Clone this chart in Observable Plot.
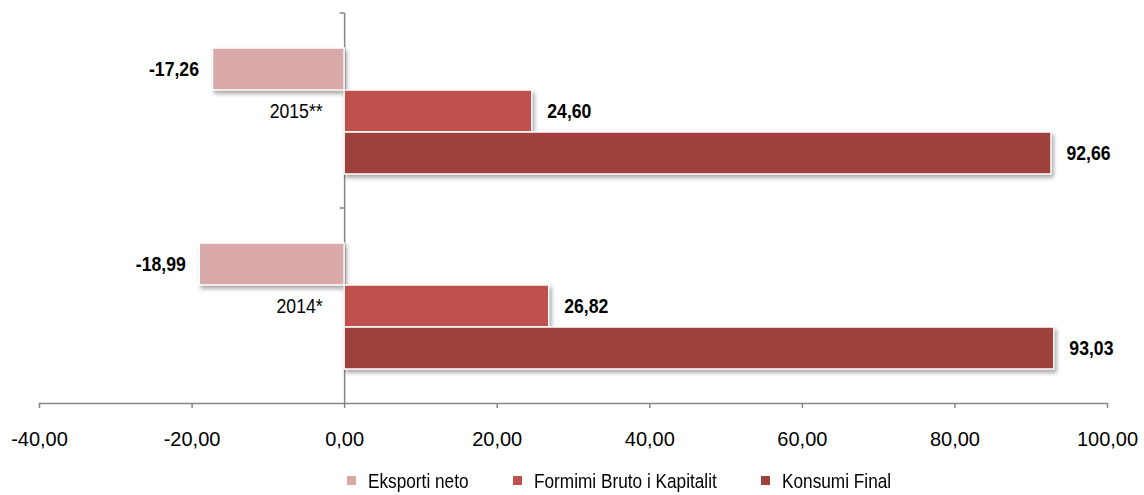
<!DOCTYPE html>
<html>
<head>
<meta charset="utf-8">
<script src="https://cdn.jsdelivr.net/npm/d3@7"></script>
<script src="https://cdn.jsdelivr.net/npm/@observablehq/plot@0.6"></script>
<style>
  html, body { margin: 0; padding: 0; background: #fff; }
  #chart { width: 1144px; height: 495px; position: relative; font-family: "Liberation Sans", Arial, sans-serif; }
  #chart svg g[aria-label="bar"] rect { filter: drop-shadow(2px 3px 2px rgba(0,0,0,0.35)); }
  .legend { display: flex; justify-content: center; align-items: center; height: 29px; padding-left: 94px; padding-top: 6px;
            font-size: 20.5px; line-height: 22px; color: #000; }
  .legend .item { display: flex; align-items: center; margin-right: 44px; }
  .legend .item:last-child { margin-right: 0; }
  .legend .sw { width: 9px; height: 9px; margin-right: 12px; }
  .legend .lbl { display: inline-block; white-space: nowrap; transform: scaleX(0.84); transform-origin: left center; }
</style>
</head>
<body>
<div id="chart"></div>
<script>
const years = ["2015**", "2014*"];
const series = ["Eksporti neto", "Formimi Bruto i Kapitalit", "Konsumi Final"];
const eksportiNeto = [-17.26, -18.99];
const formimiBruto = [24.60, 26.82];
const konsumiFinal = [92.66, 93.03];
const xTicks = [-40, -20, 0, 20, 40, 60, 80, 100];
const colors = ["#D9A9A9", "#C0504D", "#9E403E"];

const valuesBySeries = [eksportiNeto, formimiBruto, konsumiFinal];
const rows = [];
years.forEach((year, i) => {
  series.forEach((s, k) => rows.push({year, series: s, value: valuesBySeries[k][i]}));
});

const fmt = v => v.toFixed(2).replace(".", ",");
const axisGray = "#868686";

// horizontally condense text (narrow typeface look) around each text's anchor point
function narrow(index, scales, values, dimensions, context, next) {
  const g = next(index, scales, values, dimensions, context);
  g.querySelectorAll("text").forEach(t => {
    const tr = t.getAttribute("transform") || "";
    t.setAttribute("transform", tr + " scale(0.84,1)");
  });
  return g;
}

const plot = Plot.plot({
  width: 1144,
  height: 460,
  marginLeft: 39,
  marginRight: 37,
  marginTop: 12,
  marginBottom: 57,
  style: {fontFamily: "'Liberation Sans', Arial, sans-serif", background: "white"},
  x: {domain: [-40, 100], axis: null, label: null},
  y: {domain: series, paddingInner: 0, paddingOuter: 0.77, axis: null},
  fy: {domain: years, padding: 0, axis: null},
  color: {domain: series, range: colors},
  marks: [
    Plot.ruleX([0], {
      stroke: axisGray, strokeWidth: 1.5,
      render(index, scales, values, dimensions, context, next) {
        const g = next(index, scales, values, dimensions, context);
        const x0 = scales.x(0);
        const line = document.createElementNS("http://www.w3.org/2000/svg", "line");
        line.setAttribute("x1", x0 - 5);
        line.setAttribute("x2", x0);
        line.setAttribute("y1", dimensions.marginTop);
        line.setAttribute("y2", dimensions.marginTop);
        line.setAttribute("stroke", axisGray);
        line.setAttribute("stroke-width", 1.5);
        g.appendChild(line);
        return g;
      }
    }),
    Plot.barX(rows, {x: "value", y: "series", fy: "year", fill: "series", stroke: "white", strokeWidth: 1.5}),
    Plot.frame({anchor: "bottom", facetAnchor: "bottom", stroke: axisGray, strokeWidth: 1.5}),
    Plot.axisX({ticks: xTicks, tickFormat: fmt, tickSize: 5, tickPadding: 23, fontSize: 20, label: null,
                stroke: axisGray, strokeWidth: 1.5, fill: "black", facetAnchor: "bottom"}),
    Plot.text(rows.filter(d => d.value >= 0), {x: "value", y: "series", fy: "year", text: d => fmt(d.value),
      textAnchor: "start", dx: 15, fontSize: 21, fontWeight: "bold", fill: "black", render: narrow}),
    Plot.text(rows.filter(d => d.value < 0), {x: "value", y: "series", fy: "year", text: d => fmt(d.value),
      textAnchor: "end", dx: -14, fontSize: 21, fontWeight: "bold", fill: "black", render: narrow}),
    Plot.text(years, {fy: d => d, x: () => 0, text: d => d, textAnchor: "end", dx: -22,
      fontSize: 21, fill: "black", render: narrow})
  ]
});

const chart = document.getElementById("chart");
chart.appendChild(plot);

const legend = document.createElement("div");
legend.className = "legend";
const labels = [];
series.forEach((s, i) => {
  const item = document.createElement("div");
  item.className = "item";
  const sw = document.createElement("span");
  sw.className = "sw";
  sw.style.background = colors[i];
  const label = document.createElement("span");
  label.className = "lbl";
  label.textContent = s;
  item.appendChild(sw);
  item.appendChild(label);
  legend.appendChild(item);
  labels.push(label);
});
chart.appendChild(legend);
// compensate layout width for the horizontal condensing
labels.forEach(l => { l.style.marginRight = (-0.16 * l.offsetWidth) + "px"; });
</script>
</body>
</html>
